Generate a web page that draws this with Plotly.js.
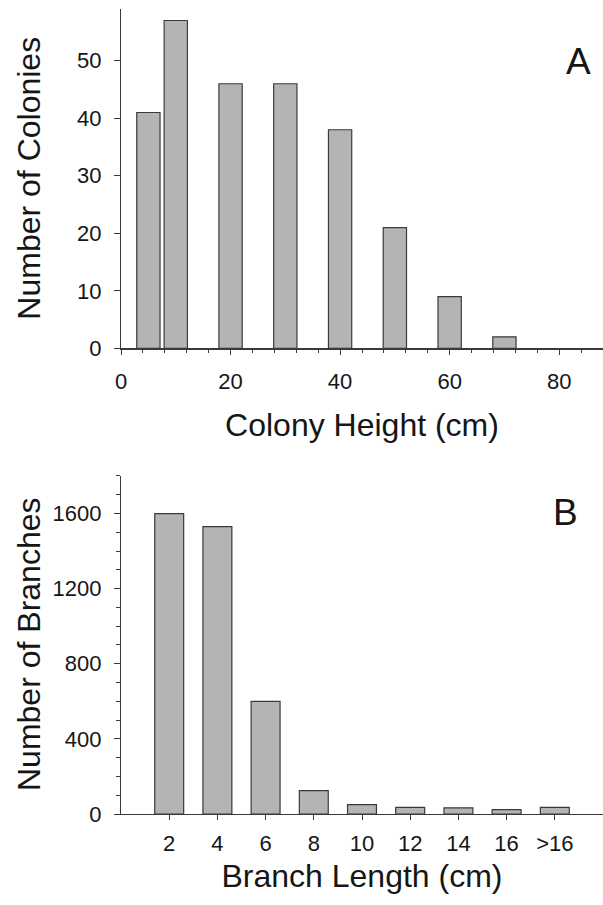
<!DOCTYPE html>
<html>
<head>
<meta charset="utf-8">
<script src="https://cdn.plot.ly/plotly-3.0.1.min.js"></script>
<style>
  html, body { margin: 0; padding: 0; background: #fff; }
  #chart { width: 603px; height: 905px; }
</style>
</head>
<body>
<div id="chart"></div>
<script>
// Panel A: colony height histogram
const heightBins = [5, 10, 20, 30, 40, 50, 60, 70];
const colonyCounts = [41, 57, 46, 46, 38, 21, 9, 2];
const heightTicks = [0, 20, 40, 60, 80];

// Panel B: branch length histogram
const lengthCats = ['2', '4', '6', '8', '10', '12', '14', '16', '>16'];
const branchCounts = [1600, 1530, 600, 125, 50, 35, 33, 23, 35];
const branchTicks = [0, 400, 800, 1200, 1600];

// Text
const xTitleA = 'Colony Height (cm)';
const yTitleA = 'Number of Colonies';
const xTitleB = 'Branch Length (cm)';
const yTitleB = 'Number of Branches';

const FONT = 'Liberation Sans, Arial, Helvetica, sans-serif';
const INK = '#161616';
const LINE = '#3a3a3a';
const FILL = '#b4b4b4';

const traces = [
  {
    type: 'bar', x: heightBins, y: colonyCounts, xaxis: 'x', yaxis: 'y',
    width: 4.25,
    marker: { color: FILL, line: { color: LINE, width: 1.2 } },
    hoverinfo: 'x+y'
  },
  {
    type: 'bar', x: lengthCats, y: branchCounts, xaxis: 'x2', yaxis: 'y2',
    width: 0.6,
    marker: { color: FILL, line: { color: LINE, width: 1.2 } },
    hoverinfo: 'x+y'
  }
];

const tickFont = { family: FONT, size: 22, color: INK };
const titleFont = { family: FONT, size: 32, color: INK };

const topDomain = [0.5785, 1];
const botDomain = [0, 0.4199];

const layout = {
  width: 603, height: 905,
  margin: { l: 121, r: 0, t: 9, b: 91 },
  paper_bgcolor: '#fff', plot_bgcolor: '#fff',
  showlegend: false,
  font: { family: FONT, color: INK },
  xaxis: {
    anchor: 'y', domain: [0, 1], range: [0, 88],
    tickmode: 'array', tickvals: heightTicks,
    ticks: 'outside', ticklen: 5, tickwidth: 1, tickcolor: LINE,
    minor: { dtick: 4, tick0: 0, ticks: 'outside', ticklen: 3, tickcolor: LINE, showgrid: false },
    showline: true, linecolor: LINE, linewidth: 1.2,
    showgrid: false, zeroline: false,
    tickfont: tickFont, ticklabelstandoff: 8,
    title: { text: xTitleA, font: titleFont, standoff: 20 }
  },
  yaxis: {
    anchor: 'x', domain: topDomain, range: [0, 59],
    tickmode: 'linear', tick0: 0, dtick: 10,
    ticks: 'outside', ticklen: 6, tickwidth: 1, tickcolor: LINE,
    showline: true, linecolor: LINE, linewidth: 1.2,
    showgrid: false, zeroline: false,
    tickfont: tickFont, ticklabelstandoff: 8
  },
  xaxis2: {
    anchor: 'y2', domain: [0, 1], type: 'category',
    categoryorder: 'array', categoryarray: lengthCats,
    range: [-1, 9],
    ticks: 'outside', ticklen: 5, tickwidth: 1, tickcolor: LINE,
    showline: true, linecolor: LINE, linewidth: 1.2,
    showgrid: false, zeroline: false,
    tickfont: tickFont, ticklabelstandoff: 4,
    title: { text: xTitleB, font: titleFont, standoff: 10 }
  },
  yaxis2: {
    anchor: 'x2', domain: botDomain, range: [0, 1800],
    tickmode: 'array', tickvals: branchTicks,
    ticks: 'outside', ticklen: 6, tickwidth: 1, tickcolor: LINE,
    minor: { dtick: 100, tick0: 0, ticks: 'outside', ticklen: 4, tickcolor: LINE, showgrid: false },
    showline: true, linecolor: LINE, linewidth: 1.2,
    showgrid: false, zeroline: false,
    tickfont: tickFont, ticklabelstandoff: 8
  },
  annotations: [
    { text: yTitleA, textangle: -90, xref: 'paper', yref: 'paper',
      x: 0, xshift: -92, y: (topDomain[0] + topDomain[1]) / 2,
      xanchor: 'center', yanchor: 'middle', showarrow: false, font: titleFont },
    { text: yTitleB, textangle: -90, xref: 'paper', yref: 'paper',
      x: 0, xshift: -92, y: (botDomain[0] + botDomain[1]) / 2,
      xanchor: 'center', yanchor: 'middle', showarrow: false, font: titleFont },
    { text: 'A', xref: 'paper', yref: 'paper', x: 0.950, y: 0.935,
      xanchor: 'center', yanchor: 'middle', showarrow: false,
      font: { family: FONT, size: 37, color: INK } },
    { text: 'B', xref: 'paper', yref: 'paper', x: 0.923, y: 0.375,
      xanchor: 'center', yanchor: 'middle', showarrow: false,
      font: { family: FONT, size: 37, color: INK } }
  ]
};

Plotly.newPlot('chart', traces, layout, { displayModeBar: false, staticPlot: true });
</script>
</body>
</html>
